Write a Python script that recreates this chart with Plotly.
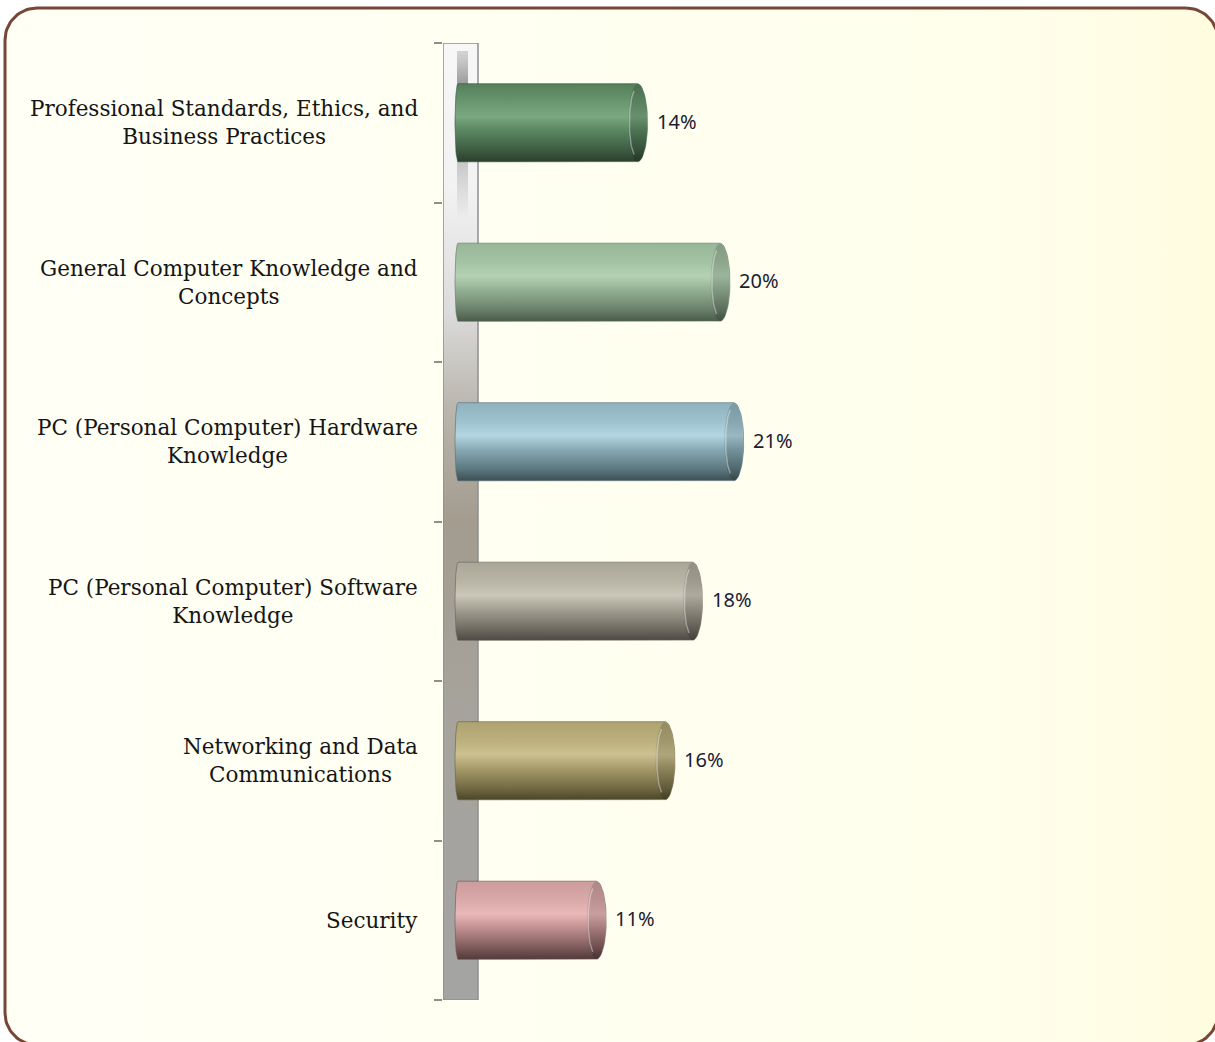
import numpy as np
import plotly.graph_objects as go

# ---------------- data ----------------
categories = [
    "Professional Standards, Ethics, and<br>Business Practices",
    "General Computer Knowledge and<br>Concepts",
    "PC (Personal Computer) Hardware<br>Knowledge",
    "PC (Personal Computer) Software<br>Knowledge",
    "Networking and Data<br>Communications",
    "Security",
]
values = [14, 20, 21, 18, 16, 11]
value_labels = ["14%", "20%", "21%", "18%", "16%", "11%"]

# cylinder shading per bar: bottom -> top
bar_scales = [
    ["#2a3f2c", "#3d5c42", "#5a8661", "#7aa880", "#6a9870", "#557f5a"],
    ["#4a5a4a", "#6a806a", "#94b094", "#b6d2b4", "#a4c2a4", "#98b698"],
    ["#3c4e54", "#5c7880", "#88aab4", "#b2d6e2", "#9ec2ce", "#8eb2be"],
    ["#4c4a44", "#706c62", "#a4a092", "#cac6b8", "#b8b4a6", "#aaa698"],
    ["#4c4628", "#726a44", "#a69a6a", "#cdc190", "#bcb07e", "#ada270"],
    ["#523a3a", "#7e5a5a", "#c09090", "#eab8b8", "#daaaaa", "#cc9c9c"],
]
stops = [0.0, 0.15, 0.4, 0.58, 0.75, 1.0]

W, H = 1215, 1042
PX_PER_UNIT = 13.75
X0_PX = 455          # pixel position of value 0
PLOT_L, PLOT_R = 443, 1200
PLOT_T, PLOT_B = 43, 1000

x_min = (PLOT_L - X0_PX) / PX_PER_UNIT
x_max = (PLOT_R - X0_PX) / PX_PER_UNIT
n = len(categories)
ypos = list(range(n - 1, -1, -1))

BAR_HALF = 0.245
CAP_RX = 10 / PX_PER_UNIT
LEFT_RX = 3 / PX_PER_UNIT


def darken(hexc, f):
    hexc = hexc.lstrip("#")
    r, g, b = (int(hexc[i:i + 2], 16) for i in (0, 2, 4))
    return "rgb(%d,%d,%d)" % (r * f, g * f, b * f)


fig = go.Figure()

# ---------- background panel (pixel axes) ----------
R = 32
bx0, bx1, by0, by1 = 5, 1218, 8, 1045
pts = []
for cx, cy, a0 in [(bx1 - R, by0 + R, -90), (bx1 - R, by1 - R, 0),
                   (bx0 + R, by1 - R, 90), (bx0 + R, by0 + R, 180)]:
    t = np.radians(np.linspace(a0, a0 + 90, 20))
    for tt in t:
        pts.append((cx + R * np.cos(tt), cy + R * np.sin(tt)))
pts.append(pts[0])
fig.add_trace(go.Scatter(
    x=[p[0] for p in pts], y=[p[1] for p in pts], mode="lines",
    fill="toself",
    fillgradient=dict(type="horizontal", start=0, stop=W,
                      colorscale=[[0, "#fffff6"], [0.5, "#fffff1"], [0.85, "#fffeea"], [1, "#fffce0"]]),
    line=dict(color="#784636", width=3),
    hoverinfo="skip", showlegend=False, xaxis="x", yaxis="y"))

# ---------- wall ----------
wall_x1 = (478 - X0_PX) / PX_PER_UNIT
fig.add_trace(go.Scatter(
    x=[x_min, wall_x1, wall_x1, x_min, x_min],
    y=[-0.5, -0.5, n - 0.5, n - 0.5, -0.5],
    mode="lines", fill="toself",
    fillgradient=dict(type="vertical", start=-0.5, stop=n - 0.5,
                      colorscale=[[0, "#a4a4a4"], [0.3, "#a6a39c"], [0.5, "#a39c8f"],
                                  [0.62, "#bab6ae"], [0.72, "#dcdcdc"],
                                  [0.85, "#f2f2f2"], [1, "#f7f7f7"]]),
    line=dict(color="#8e8e8e", width=1.5),
    hoverinfo="skip", showlegend=False, xaxis="x2", yaxis="y2"))
sx0, sx1 = 2 / PX_PER_UNIT, 13 / PX_PER_UNIT
fig.add_trace(go.Scatter(
    x=[sx0, sx1, sx1, sx0, sx0],
    y=[n - 1.6, n - 1.6, n - 0.55, n - 0.55, n - 1.6],
    mode="lines", fill="toself",
    fillgradient=dict(type="vertical", start=n - 1.6, stop=n - 0.55,
                      colorscale=[[0, "rgba(130,130,130,0)"], [0.35, "rgba(130,130,130,0.4)"],
                                  [0.8, "rgba(115,115,115,0.7)"], [1, "rgba(160,160,160,0.4)"]]),
    line=dict(width=0), hoverinfo="skip", showlegend=False, xaxis="x2", yaxis="y2"))

# ---------- cylinders ----------
for val, yc, cols in zip(values, ypos, bar_scales):
    h = BAR_HALF
    cL = LEFT_RX
    cR = val - CAP_RX
    tl = np.linspace(np.pi / 2, 3 * np.pi / 2, 30)
    tr = np.linspace(-np.pi / 2, np.pi / 2, 30)
    xs = list(cL + LEFT_RX * np.cos(tl)) + list(cR + CAP_RX * np.cos(tr))
    ys = list(yc + h * np.sin(tl)) + list(yc + h * np.sin(tr))
    xs.append(xs[0]); ys.append(ys[0])
    fig.add_trace(go.Scatter(
        x=xs, y=ys, mode="lines", fill="toself",
        fillgradient=dict(type="vertical", start=yc - h, stop=yc + h,
                          colorscale=[[s, c] for s, c in zip(stops, cols)]),
        line=dict(color=darken(cols[1], 0.9), width=0.6),
        hoverinfo="skip", showlegend=False, xaxis="x2", yaxis="y2"))
    # end cap face
    tf = np.linspace(0, 2 * np.pi, 60)
    fig.add_trace(go.Scatter(
        x=list(cR + CAP_RX * 0.95 * np.cos(tf)), y=list(yc + h * 0.985 * np.sin(tf)),
        mode="lines", fill="toself",
        fillgradient=dict(type="vertical", start=yc - h, stop=yc + h,
                          colorscale=[[s, darken(c, 0.86)] for s, c in zip(stops, cols)]),
        line=dict(width=0), hoverinfo="skip", showlegend=False, xaxis="x2", yaxis="y2"))
    # highlight rim
    th = np.linspace(0.64 * np.pi, 1.36 * np.pi, 30)
    fig.add_trace(go.Scatter(
        x=list(cR + CAP_RX * 0.82 * np.cos(th)), y=list(yc + h * 0.9 * np.sin(th)),
        mode="lines", line=dict(color="rgba(255,255,255,0.38)", width=1.5),
        hoverinfo="skip", showlegend=False, xaxis="x2", yaxis="y2"))

# ---------- labels ----------
annotations = []
for cat, yc in zip(categories, ypos):
    annotations.append(dict(
        text=cat, x=420 / W, xref="paper", xanchor="right", y=yc, yref="y2",
        yanchor="middle", align="center", showarrow=False,
        font=dict(family="DejaVu Serif", size=21.5, color="#151515")))
for val, lab, yc in zip(values, value_labels, ypos):
    annotations.append(dict(
        text=lab, x=val, xref="x2", xanchor="left", xshift=7, y=yc + 0.01, yref="y2",
        yanchor="middle", showarrow=False,
        font=dict(family="Noto Sans", size=20, color="#1c1c34")))

boundaries = [i - 0.5 for i in range(n + 1)]

fig.update_layout(
    width=W, height=H,
    margin=dict(l=0, r=0, t=0, b=0),
    paper_bgcolor="white",
    plot_bgcolor="rgba(0,0,0,0)",
    showlegend=False,
    xaxis=dict(domain=[0, 1], range=[0, W], visible=False, fixedrange=True),
    yaxis=dict(domain=[0, 1], range=[H, 0], visible=False, fixedrange=True),
    xaxis2=dict(domain=[PLOT_L / W, PLOT_R / W], range=[x_min, x_max], visible=False,
                anchor="y2", fixedrange=True),
    yaxis2=dict(domain=[1 - PLOT_B / H, 1 - PLOT_T / H], range=[-0.5, n - 0.5],
                anchor="x2", tickvals=boundaries, showticklabels=False,
                ticks="outside", ticklen=8, tickwidth=1.5, tickcolor="#8e8e8e",
                showgrid=False, zeroline=False, showline=False, fixedrange=True),
    annotations=annotations,
)

fig.write_html("out.html", config={"displayModeBar": False},
               post_script="document.body.style.margin='0px';")
